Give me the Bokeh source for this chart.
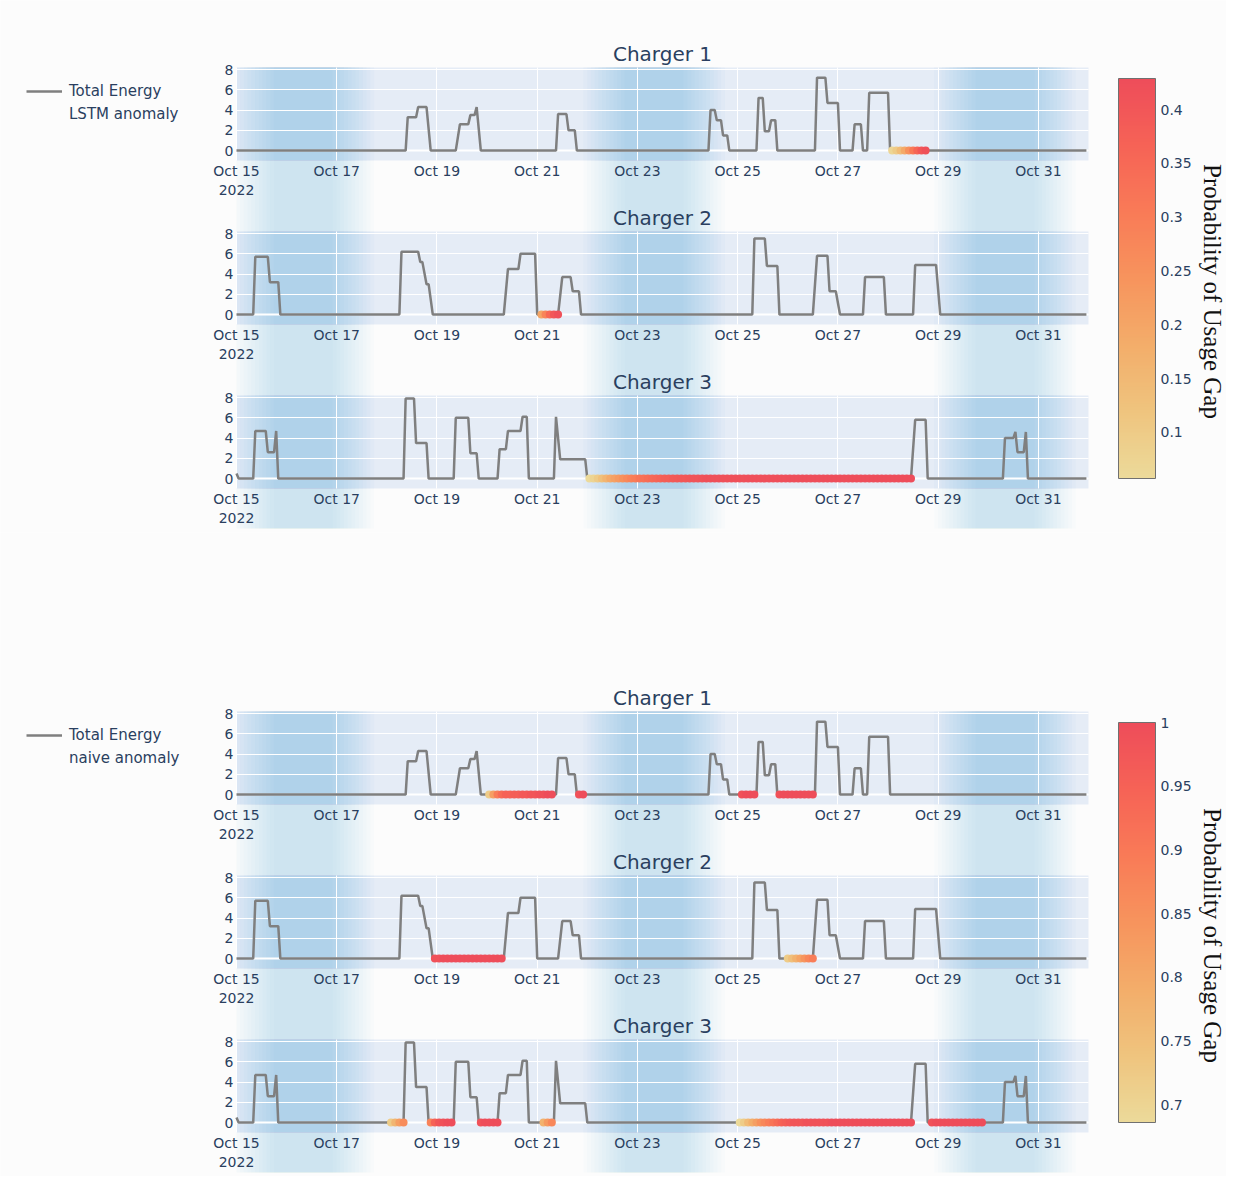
import numpy as np
import pandas as pd
from bokeh.plotting import figure
from bokeh.layouts import column
from bokeh.models import (Range1d, FixedTicker, Legend, LegendItem, LinearColorMapper,
                          Grid, LinearAxis, Label, ColumnDataSource)
from bokeh.transform import linear_cmap
from bokeh.embed import file_html
from bokeh.resources import INLINE

# ---------------- data ----------------
start_time = "2022-10-15 00:00"
end_time = "2022-11-01 00:00"
chargers = ["Charger 1", "Charger 2", "Charger 3"]

# Total energy (kWh) break points, hours after Oct 15 00:00
c1_hours = [0, 81, 82, 86, 87, 91, 93, 105, 107, 111, 112, 114, 115, 117, 153, 154, 158, 159, 162, 163,
            226, 227, 229, 230, 232, 233, 235, 236, 249, 250, 252, 253, 255, 256, 258, 259, 277, 278, 282,
            283, 288, 289, 295, 296, 299, 300, 302, 303, 312, 313, 407]
c1_vals = [0, 0, 3.3, 3.3, 4.3, 4.3, 0, 0, 2.6, 2.6, 3.5, 3.5, 4.3, 0, 0, 3.6, 3.6, 2.0, 2.0, 0,
           0, 4.0, 4.0, 3.0, 3.0, 1.5, 1.5, 0, 0, 5.2, 5.2, 1.9, 1.9, 3.0, 3.0, 0, 0, 7.2, 7.2,
           4.7, 4.7, 0, 0, 2.6, 2.6, 0, 0, 5.7, 5.7, 0, 0]
c2_hours = [0, 8, 9, 15, 16, 20, 21, 78, 79, 87, 88, 89, 91, 92, 94, 128, 130, 135, 136, 143, 144,
            154, 156, 160, 161, 164, 165, 247, 248, 253, 254, 259, 260, 276, 278, 283, 284, 287, 289,
            300, 301, 310, 311, 324, 325, 335, 337, 407]
c2_vals = [0, 0, 5.7, 5.7, 3.2, 3.2, 0, 0, 6.2, 6.2, 5.2, 5.2, 3.0, 3.0, 0, 0, 4.5, 4.5, 6.0, 6.0, 0,
           0, 3.7, 3.7, 2.3, 2.3, 0, 0, 7.5, 7.5, 4.8, 4.8, 0, 0, 5.8, 5.8, 2.3, 2.3, 0,
           0, 3.7, 3.7, 0, 0, 4.9, 4.9, 0, 0]
c3_hours = [0, 1, 8, 9, 14, 15, 18, 19, 20, 80, 81, 85, 86, 91, 92, 104, 105, 111, 112, 115, 116,
            125, 126, 129, 130, 136, 137, 139, 140, 152, 153, 155, 167, 168, 323, 325, 330, 331,
            367, 368, 372, 373, 374, 377, 378, 379, 407]
c3_vals = [0.5, 0, 0, 4.7, 4.7, 2.6, 2.6, 4.7, 0, 0, 7.9, 7.9, 3.5, 3.5, 0, 0, 6.0, 6.0, 2.5, 2.5, 0,
           0, 2.9, 2.9, 4.7, 4.7, 6.1, 6.1, 0, 0, 6.1, 1.9, 1.9, 0, 0, 5.8, 5.8, 0,
           0, 4.0, 4.0, 4.6, 2.6, 2.6, 4.6, 0, 0]

# anomaly segments: (first hour, probabilities every 2 hours)
lstm_c1 = [(314, [0.07, 0.10, 0.14, 0.19, 0.25, 0.31, 0.36, 0.40, 0.42])]
lstm_c2 = [(146, [0.20, 0.28, 0.35, 0.40, 0.42])]
lstm_c3 = [(169, [0.057, 0.075, 0.10, 0.13, 0.16, 0.19, 0.21, 0.23, 0.25, 0.27, 0.29, 0.30, 0.32, 0.33,
                  0.34, 0.35, 0.36, 0.37, 0.38, 0.385, 0.39, 0.395, 0.40, 0.40, 0.405, 0.41, 0.41, 0.415,
                  0.42, 0.42, 0.42, 0.42, 0.42, 0.42, 0.42, 0.42, 0.42, 0.42,
                  0.422, 0.422, 0.422, 0.422, 0.422, 0.422, 0.422, 0.422, 0.422, 0.422,
                  0.425, 0.425, 0.425, 0.425, 0.425, 0.425, 0.425, 0.425, 0.425, 0.425,
                  0.427, 0.427, 0.427, 0.427, 0.427, 0.427, 0.427, 0.427, 0.427, 0.427,
                  0.429, 0.429, 0.429, 0.429, 0.429, 0.429, 0.429, 0.429, 0.429, 0.429])]

naive_c1 = [(121, [0.72, 0.82, 0.89, 0.93, 0.95, 0.95, 0.96, 0.96, 0.97, 0.97, 0.98, 0.98, 0.99, 0.99, 1.0, 1.0]),
            (164, [0.99, 1.0]),
            (242, [0.99, 1.0, 1.0, 1.0]),
            (260, [0.99, 1.0, 1.0, 1.0, 1.0, 1.0, 1.0, 1.0, 1.0])]
naive_c2 = [(95, [0.99, 0.99, 1.0, 1.0, 1.0, 1.0, 1.0, 1.0, 1.0, 1.0, 1.0, 1.0, 1.0, 1.0, 1.0, 1.0, 1.0]),
            (264, [0.72, 0.75, 0.78, 0.81, 0.84, 0.87, 0.89])]
naive_c3 = [(74, [0.72, 0.77, 0.82, 0.86]),
            (93, [0.88, 0.95, 0.98, 0.99, 1.0, 1.0]),
            (117, [0.99, 1.0, 1.0, 1.0, 1.0]),
            (147, [0.78, 0.83, 0.87]),
            (241, [0.686, 0.72, 0.76, 0.79, 0.82, 0.85, 0.87, 0.89, 0.91, 0.93, 0.95, 0.96, 0.97, 0.98,
                   0.98, 0.98, 0.99, 0.99, 0.99, 0.99, 0.99, 0.99, 1.0, 1.0, 1.0, 1.0, 1.0, 1.0,
                   1.0, 1.0, 1.0, 1.0, 1.0, 1.0, 1.0, 1.0, 1.0, 1.0, 1.0, 1.0, 1.0, 1.0]),
            (333, [0.99, 1.0, 1.0, 1.0, 1.0, 1.0, 1.0, 1.0, 1.0, 1.0, 1.0, 1.0, 1.0])]

weekend_start = ["2022-10-15 08:00", "2022-10-22 08:00", "2022-10-29 08:00"]
weekend_end = ["2022-10-17 08:00", "2022-10-24 08:00", "2022-10-31 08:00"]

x_tick_dates = ["2022-10-15", "2022-10-17", "2022-10-19", "2022-10-21", "2022-10-23",
                "2022-10-25", "2022-10-27", "2022-10-29", "2022-10-31"]
x_tick_labels = ["Oct 15\n2022", "Oct 17", "Oct 19", "Oct 21", "Oct 23",
                 "Oct 25", "Oct 27", "Oct 29", "Oct 31"]
y_ticks = [0, 2, 4, 6, 8]

lstm_cb_ticks = [0.1, 0.15, 0.2, 0.25, 0.3, 0.35, 0.4]
lstm_cb_labels = ["0.1", "0.15", "0.2", "0.25", "0.3", "0.35", "0.4"]
naive_cb_ticks = [0.7, 0.75, 0.8, 0.85, 0.9, 0.95, 1.0]
naive_cb_labels = ["0.7", "0.75", "0.8", "0.85", "0.9", "0.95", "1"]
cb_title = "Probability of Usage Gap"

# ---------------- style / layout ----------------
oryel = [(236, 218, 154), (239, 196, 126), (243, 173, 106), (247, 148, 93),
         (249, 123, 87), (246, 99, 86), (238, 77, 90)]
TXT = "#2a3f5f"
FONT = "DejaVu Sans"
BG = "#fcfcfc"
BAND = "#64aae1"
PLOT_BG = "#e5ecf6"
LINE = "#7f7f7f"

FW = 1226                       # figure width (one figure per group)
PA_LEFT, PA_RIGHT = 236, 1088   # plot area horizontal pixels
PA_H = 93                       # plot area height
STEP = 164                      # vertical distance between subplots
Y_LO, Y_HI = -0.98, 8.2
CB_LEFT, CB_RIGHT, CB_H = 1118, 1155, 400
CB_TITLE_X = 1212


def smooth_palette(cols, n=256):
    arr = np.array(cols, dtype=float)
    pos = np.linspace(0, 1, len(cols))
    t = np.linspace(0, 1, n)
    out = []
    for tt in t:
        r, g, b = (np.interp(tt, pos, arr[:, k]) for k in range(3))
        out.append("#%02x%02x%02x" % (int(round(r)), int(round(g)), int(round(b))))
    return out


PAL = smooth_palette(oryel)


def to_ms(ts):
    return pd.Timestamp(ts).value / 1e6


X0, X1 = to_ms(start_time), to_ms(end_time)
HOUR = 3600000.0
tick_ms = [to_ms(d) for d in x_tick_dates]
energy_h = [c1_hours, c2_hours, c3_hours]
energy_v = [c1_vals, c2_vals, c3_vals]


def expand(segments):
    hrs, probs = [], []
    for h0, ps in segments:
        for i, pv in enumerate(ps):
            hrs.append(h0 + 2 * i)
            probs.append(pv)
    return hrs, probs


def style_axis(ax):
    ax.axis_line_color = None
    ax.major_tick_line_color = None
    ax.minor_tick_line_color = None
    ax.major_tick_out = 0
    ax.major_tick_in = 0
    ax.minor_tick_out = 0
    ax.major_label_text_font = FONT
    ax.major_label_text_font_size = "14px"
    ax.major_label_text_color = TXT


def band_quads(p, top, bottom, total_alpha, **kw):
    NL = 12
    blur = 0.45 * 24 * HOUR
    a_layer = 1 - (1 - total_alpha) ** (1 / NL)
    for j in range(NL):
        off = blur * (2 * (j + 0.5) / NL - 1)
        lefts = [max(to_ms(st) + off, X0) for st in weekend_start]
        rights = [min(to_ms(en) - off, X1) for en in weekend_end]
        p.quad(left=lefts, right=rights, top=top, bottom=bottom, fill_color=BAND,
               fill_alpha=a_layer, line_color=None, level="image", **kw)


def make_group(segs_list, legend_label, cb_ticks, cb_labels, top0, cb_top, gh):
    allp = [pv for segs in segs_list for _, ps in segs for pv in ps]
    lo, hi = min(allp), max(allp)
    ms_per_px = (X1 - X0) / (PA_RIGHT - PA_LEFT)
    p = figure(x_range=Range1d(X0 - PA_LEFT * ms_per_px, X1 + (FW - PA_RIGHT) * ms_per_px),
               y_range=Range1d(gh, 0), frame_width=FW, frame_height=gh,
               min_border_left=0, min_border_right=0, min_border_top=0, min_border_bottom=0,
               x_axis_location=None, y_axis_location=None, toolbar_location=None,
               output_backend="svg")
    p.center = []
    p.background_fill_color = BG
    p.border_fill_color = BG
    p.outline_line_color = None

    s = PA_H / (Y_HI - Y_LO)
    tops = [top0 + STEP * k for k in range(3)]
    ranges = {}
    for k in range(3):
        ranges["c%d" % k] = Range1d(Y_LO - (gh - tops[k] - PA_H) / s, Y_HI + tops[k] / s)
    upp = (hi - lo) / CB_H
    ranges["cby"] = Range1d(lo - (gh - cb_top - CB_H) * upp, hi + cb_top * upp)
    p.extra_y_ranges = ranges
    cw = CB_RIGHT - CB_LEFT
    p.extra_x_ranges = {"cbx": Range1d(-CB_LEFT / cw, (FW - CB_LEFT) / cw)}

    # faint weekend bands running through the whole group
    band_quads(p, top0, tops[2] + PA_H + 40, 0.26)
    # plot-area backgrounds and the stronger bands inside them
    for k in range(3):
        rn = "c%d" % k
        p.quad(left=X0, right=X1, bottom=Y_LO, top=Y_HI, y_range_name=rn,
               fill_color=PLOT_BG, line_color=None, level="image")
        band_quads(p, Y_HI, Y_LO, 0.38, y_range_name=rn)

    line_renderers = []
    for k in range(3):
        rn = "c%d" % k
        p.add_layout(Grid(dimension=0, ticker=FixedTicker(ticks=tick_ms), y_range_name=rn,
                          cross_bounds=(Y_LO, Y_HI), grid_line_color="white", grid_line_width=1))
        p.add_layout(Grid(dimension=1, ticker=FixedTicker(ticks=y_ticks), y_range_name=rn,
                          cross_bounds=(X0, X1), grid_line_color="white", grid_line_width=1))
        p.segment(x0=X0, y0=0, x1=X1, y1=0, y_range_name=rn, line_color="white",
                  line_width=2, level="underlay")

        xs = [X0 + h * HOUR for h in energy_h[k]]
        lr = p.line(xs, energy_v[k], y_range_name=rn, line_color=LINE, line_width=2.5)
        line_renderers.append(lr)

        ah, ap = expand(segs_list[k])
        src = ColumnDataSource(dict(x=[X0 + h * HOUR for h in ah], y=[0] * len(ah), prob=ap))
        p.scatter("x", "y", source=src, y_range_name=rn, size=8, line_color=None,
                  fill_color=linear_cmap("prob", PAL, lo, hi))

        ax = LinearAxis(y_range_name=rn, fixed_location=Y_LO, ticker=FixedTicker(ticks=tick_ms),
                        major_label_overrides=dict(zip(tick_ms, x_tick_labels)))
        style_axis(ax)
        ax.major_label_standoff = 2
        p.add_layout(ax, "below")
        ay = LinearAxis(y_range_name=rn, fixed_location=X0, ticker=FixedTicker(ticks=y_ticks))
        style_axis(ay)
        ay.major_label_standoff = 3
        p.add_layout(ay, "left")

        p.add_layout(Label(x=(X0 + X1) / 2, y=tops[k] - 14, text=chargers[k], text_align="center",
                           text_baseline="middle", text_font=FONT, text_font_size="20px",
                           text_color=TXT))

    # colour bar
    mapper = LinearColorMapper(palette=PAL, low=lo, high=hi)
    p.image(image=[np.linspace(lo, hi, 400).reshape(-1, 1)], x=0, y=lo, dw=1, dh=hi - lo,
            color_mapper=mapper, x_range_name="cbx", y_range_name="cby")
    p.quad(left=0, right=1, bottom=lo, top=hi, fill_color=None, line_color="#707070",
           line_width=1, x_range_name="cbx", y_range_name="cby")
    cax = LinearAxis(x_range_name="cbx", y_range_name="cby", fixed_location=1,
                     ticker=FixedTicker(ticks=cb_ticks),
                     major_label_overrides=dict(zip(cb_ticks, cb_labels)))
    style_axis(cax)
    cax.major_label_standoff = 5
    p.add_layout(cax, "right")
    p.add_layout(Label(x=(CB_TITLE_X - CB_LEFT) / cw, y=cb_top + CB_H / 2 + 13, text=cb_title,
                       x_range_name="cbx", angle=-np.pi / 2, text_align="center",
                       text_baseline="middle", text_font="Liberation Serif",
                       text_font_size="25px", text_color="#111111"))

    dummy = p.scatter(x=[], y=[], size=8, fill_color=PAL[0], line_color=None)
    legend = Legend(items=[LegendItem(label="Total Energy", renderers=[line_renderers[0]]),
                           LegendItem(label=legend_label, renderers=[dummy])],
                    location=(26, gh - (top0 + 57)), orientation="vertical", glyph_width=36,
                    glyph_height=20, label_standoff=7, padding=10, margin=0, spacing=3,
                    background_fill_alpha=0, border_line_color=None, label_text_font=FONT,
                    label_text_font_size="15px", label_text_color=TXT)
    p.add_layout(legend)
    return p


p1 = make_group([lstm_c1, lstm_c2, lstm_c3], "LSTM anomaly", lstm_cb_ticks, lstm_cb_labels,
                67, 78, 532)
p2 = make_group([naive_c1, naive_c2, naive_c3], "naive anomaly", naive_cb_ticks, naive_cb_labels,
                179, 190, 644)

layout = column(p1, p2)
open("out.html", "w").write(file_html(layout, INLINE))
